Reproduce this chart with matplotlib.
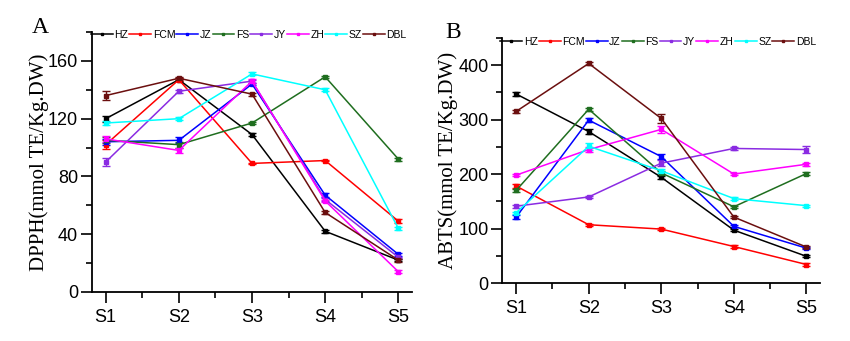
import matplotlib.pyplot as plt
import numpy as np
from matplotlib.lines import Line2D
from matplotlib.ticker import MultipleLocator

stages = ['S1', 'S2', 'S3', 'S4', 'S5']
cultivars = ['HZ', 'FCM', 'JZ', 'FS', 'JY', 'ZH', 'SZ', 'DBL']
colors = ['#000000', '#ff0000', '#0000ff', '#1f6e1f', '#8a2be2', '#ff00ff', '#00ffff', '#6b0f0f']

# DPPH scavenging (mmol TE/Kg DW)
dpph = {
    'HZ':  [120, 147, 109, 42, 22],
    'FCM': [102, 147, 89, 91, 49],
    'JZ':  [104, 105, 144, 67, 26],
    'FS':  [105, 102, 117, 149, 92],
    'JY':  [90, 139, 146, 64, 24],
    'ZH':  [106, 98, 146, 63, 14],
    'SZ':  [117, 120, 151, 140, 44],
    'DBL': [136, 148, 137, 55, 22],
}
dpph_err = {
    'HZ':  [2, 1, 1, 1, 0.5],
    'FCM': [3, 1, 0.5, 0.5, 1.5],
    'JZ':  [2, 2, 1, 1.5, 1],
    'FS':  [2, 2, 1, 0.5, 1],
    'JY':  [3, 1, 1, 1, 0.5],
    'ZH':  [2, 1.5, 1.5, 1, 1],
    'SZ':  [1.5, 1, 1, 1, 1],
    'DBL': [3, 1, 1, 1, 1],
}

# ABTS scavenging (mmol TE/Kg DW)
abts = {
    'HZ':  [347, 278, 194, 97, 49],
    'FCM': [178, 107, 99, 67, 34],
    'JZ':  [121, 299, 232, 104, 64],
    'FS':  [170, 319, 202, 140, 201],
    'JY':  [141, 158, 220, 247, 245],
    'ZH':  [198, 245, 282, 200, 218],
    'SZ':  [129, 251, 206, 155, 142],
    'DBL': [315, 403, 302, 121, 66],
}
abts_err = {
    'HZ':  [3, 5, 3, 2, 2],
    'FCM': [3, 2, 2, 2, 2],
    'JZ':  [3, 3, 4, 2, 2],
    'FS':  [3, 3, 3, 2, 2],
    'JY':  [3, 2, 5, 3, 6],
    'ZH':  [2, 5, 7, 2, 3],
    'SZ':  [2, 6, 4, 2, 2],
    'DBL': [3, 2, 8, 2, 2],
}

plt.rcParams['font.family'] = ['Liberation Sans', 'DejaVu Sans']
serif = ['Liberation Serif', 'DejaVu Serif']

fig = plt.figure(figsize=(8.5, 3.41), dpi=100)
ax1 = fig.add_axes([0.108, 0.144, 0.377, 0.762])
ax2 = fig.add_axes([0.591, 0.170, 0.374, 0.719])

x = np.arange(1, len(stages) + 1)


def draw(ax, data, err, ylabel, ytop, ymaj, ymin, lab_x, leg_y):
    for name, c in zip(cultivars, colors):
        ax.errorbar(x, data[name], yerr=err[name], color=c, lw=1.1,
                    marker='s', ms=2.5, capsize=3, elinewidth=1,
                    capthick=1)
    ax.set_xlim(0.81, 5.19)
    ax.set_ylim(0, ytop)
    ax.set_xticks(x)
    ax.set_xticklabels(stages)
    ax.xaxis.set_minor_locator(MultipleLocator(0.5))
    ax.yaxis.set_minor_locator(MultipleLocator(ymin))
    ax.set_yticks(np.arange(0, ytop, ymaj))
    ax.spines['top'].set_visible(False)
    ax.spines['right'].set_visible(False)
    for s in ['left', 'bottom']:
        ax.spines[s].set_linewidth(1.3)
    ax.tick_params(axis='both', which='major', direction='out', length=8,
                   width=1.2, labelsize=13, pad=2)
    ax.tick_params(axis='both', which='minor', direction='out', length=4,
                   width=1.2)
    ax.tick_params(axis='x', which='major', pad=4)
    ax.set_ylabel(ylabel, family=serif, fontsize=15)
    ax.yaxis.set_label_coords(lab_x, 0.5)
    handles = [Line2D([], [], color=c, lw=1.1, marker='s', ms=1.5)
               for c in colors]
    ax.legend(handles, cultivars, loc='center', bbox_to_anchor=(0.49, leg_y),
              ncol=8, frameon=False, fontsize=7.5, handlelength=2.1,
              handletextpad=0.15, columnspacing=0.1, borderaxespad=0,
              borderpad=0)


draw(ax1, dpph, dpph_err, 'DPPH(mmol TE/Kg.DW)', 180, 40, 20, -0.135, 0.99)
draw(ax2, abts, abts_err, 'ABTS(mmol TE/Kg.DW)', 450, 100, 50, -0.14, 0.985)

fig.text(0.047, 0.918, 'A', family=serif, fontsize=17, ha='center', va='center')
fig.text(0.533, 0.906, 'B', family=serif, fontsize=17, ha='center', va='center')

fig.savefig('out.png', dpi=100)
